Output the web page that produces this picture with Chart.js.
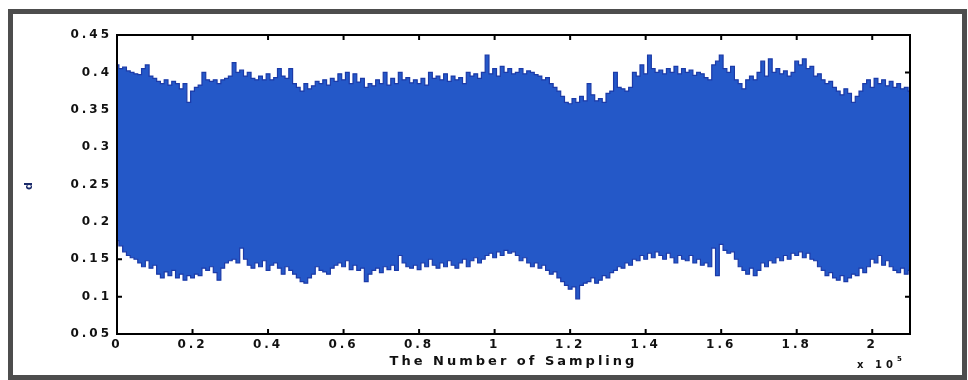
<!DOCTYPE html>
<html><head><meta charset="utf-8">
<script src="https://cdn.jsdelivr.net/npm/chart.js@4/dist/chart.umd.min.js"></script>
<style>
html,body{margin:0;padding:0;background:#fff;}
#wrap{position:relative;width:968px;height:380px;overflow:hidden;}
#frame{position:absolute;left:8px;top:9px;width:949px;height:361px;border:5px solid #4d4d4d;}
canvas{position:absolute;left:0;top:0;}
</style></head><body>
<div id="wrap"><div id="frame"></div><canvas id="c" width="968" height="380"></canvas></div>
<script>
// Sample index spacing (x in units of 1e5 samples)
const sampleStep = 0.01;
// Upper envelope (peaks) of the signal
const upperPeaks = [
0.41,0.405,0.407,0.402,0.40,0.398,0.397,0.405,0.41,0.395,0.392,0.388,0.385,0.39,0.383,0.388,0.385,0.378,0.385,0.36,0.375,0.38,0.383,0.40,0.39,0.388,0.39,0.385,0.39,0.392,0.395,0.413,0.40,0.403,0.395,0.40,0.392,0.39,0.395,0.39,0.398,0.39,0.393,0.405,0.395,0.392,0.405,0.385,0.38,0.375,0.385,0.378,0.382,
0.388,0.385,0.39,0.383,0.392,0.388,0.398,0.39,0.40,0.385,0.398,0.387,0.392,0.38,0.385,0.382,0.39,0.385,0.40,0.383,0.392,0.385,0.40,0.39,0.393,0.386,0.39,0.385,0.392,0.383,0.40,0.392,0.395,0.39,0.398,0.388,0.395,0.39,0.393,0.385,0.40,0.395,0.398,0.392,0.40,0.423,0.398,0.405,0.395,0.408,0.40,0.405,0.398,
0.40,0.405,0.398,0.402,0.40,0.397,0.395,0.39,0.393,0.385,0.38,0.375,0.368,0.36,0.358,0.365,0.36,0.368,0.362,0.385,0.37,0.362,0.365,0.36,0.372,0.375,0.40,0.38,0.378,0.375,0.38,0.40,0.395,0.41,0.398,0.423,0.405,0.40,0.403,0.398,0.405,0.40,0.408,0.398,0.405,0.40,0.403,0.396,0.40,0.398,0.393,0.39,
0.41,0.415,0.423,0.405,0.40,0.408,0.39,0.385,0.378,0.39,0.395,0.39,0.40,0.415,0.395,0.418,0.40,0.405,0.398,0.402,0.395,0.40,0.415,0.41,0.418,0.405,0.408,0.395,0.398,0.39,0.385,0.388,0.38,0.375,0.37,0.378,0.372,0.36,0.368,0.375,0.385,0.39,0.38,0.392,0.385,0.39,0.382,0.388,0.38,0.385,0.378,0.38,0.375
];
// Lower envelope (troughs) of the signal
const lowerPeaks = [
0.175,0.168,0.16,0.155,0.152,0.15,0.145,0.14,0.148,0.138,0.142,0.13,0.125,0.133,0.128,0.135,0.125,0.13,0.122,0.128,0.125,0.13,0.128,0.138,0.135,0.14,0.132,0.122,0.138,0.145,0.148,0.15,0.145,0.165,0.15,0.142,0.138,0.145,0.14,0.148,0.135,0.142,0.145,0.138,0.13,0.14,0.135,0.13,0.125,0.12,0.118,0.125,0.13,
0.14,0.135,0.133,0.13,0.138,0.142,0.145,0.14,0.148,0.136,0.142,0.135,0.138,0.12,0.13,0.135,0.138,0.132,0.14,0.136,0.142,0.135,0.155,0.145,0.14,0.138,0.142,0.136,0.145,0.14,0.15,0.142,0.138,0.145,0.14,0.148,0.142,0.138,0.145,0.15,0.14,0.148,0.152,0.145,0.15,0.155,0.158,0.152,0.16,0.155,0.162,0.158,0.16,
0.155,0.148,0.152,0.145,0.14,0.145,0.138,0.142,0.135,0.13,0.133,0.125,0.12,0.115,0.11,0.113,0.097,0.115,0.118,0.12,0.125,0.118,0.122,0.128,0.125,0.132,0.135,0.14,0.138,0.145,0.142,0.15,0.148,0.155,0.15,0.158,0.152,0.16,0.155,0.15,0.158,0.152,0.145,0.155,0.15,0.148,0.155,0.145,0.15,0.142,0.145,0.14,
0.165,0.128,0.17,0.162,0.158,0.16,0.15,0.14,0.135,0.13,0.138,0.128,0.135,0.145,0.14,0.148,0.145,0.152,0.148,0.155,0.15,0.158,0.155,0.16,0.152,0.158,0.15,0.148,0.14,0.135,0.128,0.132,0.125,0.122,0.128,0.12,0.125,0.13,0.128,0.138,0.132,0.14,0.15,0.145,0.155,0.142,0.148,0.14,0.135,0.132,0.138,0.13,0.135
];
const xTickValues = [0,0.2,0.4,0.6,0.8,1,1.2,1.4,1.6,1.8,2];
const xTickLabels = ['0','0.2','0.4','0.6','0.8','1','1.2','1.4','1.6','1.8','2'];
const yTickValues = [0.05,0.1,0.15,0.2,0.25,0.3,0.35,0.4,0.45];
const yTickLabels = ['0.05','0.1','0.15','0.2','0.25','0.3','0.35','0.4','0.45'];
const xTitle = 'The Number of Sampling';
const yTitle = 'd';
const xExponent = '5';

const edgeColor = '#1b3aa8';
const fillColor = 'rgb(36,88,200)';
const FONT = '"DejaVu Sans", sans-serif';

const lowerData = lowerPeaks.map((v,i)=>({x:+(i*sampleStep).toFixed(2), y:v}));
const upperData = upperPeaks.map((v,i)=>({x:+(i*sampleStep).toFixed(2), y:v}));

const axesPlugin = {
  id:'matlabAxes',
  beforeDraw(chart){ chart.ctx.letterSpacing = '3px'; },
  beforeDatasetsDraw(chart){
    const {ctx, chartArea:a, scales:{x,y}} = chart;
    ctx.save();
    ctx.letterSpacing = '0px';
    ctx.strokeStyle = '#000'; ctx.lineWidth = 2;
    ctx.beginPath();
    xTickValues.forEach(v=>{ const p = x.getPixelForValue(v); ctx.moveTo(p,a.bottom); ctx.lineTo(p,a.bottom-5); ctx.moveTo(p,a.top); ctx.lineTo(p,a.top+5); });
    yTickValues.forEach(v=>{ const p = y.getPixelForValue(v); ctx.moveTo(a.left,p); ctx.lineTo(a.left+5,p); ctx.moveTo(a.right,p); ctx.lineTo(a.right-5,p); });
    ctx.stroke();
    ctx.restore();
  },
  afterDatasetsDraw(chart){ chart.ctx.letterSpacing = '4px'; },
  afterDraw(chart){
    const {ctx, chartArea:a} = chart;
    ctx.save();
    ctx.strokeStyle = '#000'; ctx.lineWidth = 2;
    ctx.strokeRect(a.left, a.top, a.right-a.left, a.bottom-a.top);
    ctx.fillStyle = '#111';
    ctx.letterSpacing = '4px';
    ctx.textBaseline = 'alphabetic'; ctx.textAlign = 'left';
    ctx.font = 'bold 10px ' + FONT;
    ctx.fillText('x 10', a.right - 53, a.bottom + 34);
    ctx.font = 'bold 7px ' + FONT;
    ctx.letterSpacing = '0px';
    ctx.fillText(xExponent, a.right - 13, a.bottom + 27);
    ctx.restore();
    ctx.letterSpacing = '0px';
  }
};

new Chart(document.getElementById('c').getContext('2d'), {
  type:'line',
  data:{datasets:[
    {label:'lower', data:lowerData, borderColor:edgeColor, borderWidth:1.2, pointRadius:0, stepped:'middle', fill:false},
    {label:'upper', data:upperData, borderColor:edgeColor, borderWidth:1.2, pointRadius:0, stepped:'middle', fill:'-1', backgroundColor:fillColor}
  ]},
  options:{
    responsive:false, animation:false, devicePixelRatio:1,
    layout:{padding:{left:0,right:58,top:35,bottom:0}},
    plugins:{legend:{display:false}, tooltip:{enabled:false}},
    scales:{
      x:{type:'linear', min:0, max:2.1,
        afterBuildTicks:s=>{ s.ticks = xTickValues.map(v=>({value:v})); },
        afterFit:s=>{ s.height = 46; },
        ticks:{autoSkip:false, maxRotation:0, padding:4, color:'#111', font:{family:FONT, size:12, weight:'bold'}, callback:(v,i)=>xTickLabels[i]},
        grid:{display:false, drawTicks:false}, border:{display:false},
        title:{display:true, text:xTitle, color:'#111', font:{family:FONT, size:13, weight:'bold'}, padding:{top:0,bottom:11}}
      },
      y:{type:'linear', min:0.05, max:0.45,
        afterBuildTicks:s=>{ s.ticks = yTickValues.map(v=>({value:v})); },
        afterFit:s=>{ s.width = 117; },
        ticks:{autoSkip:false, padding:5, color:'#111', font:{family:FONT, size:12, weight:'bold'}, callback:(v,i)=>yTickLabels[i]},
        grid:{display:false, drawTicks:false}, border:{display:false},
        title:{display:true, text:yTitle, color:'#1a2a6a', font:{family:FONT, size:11, weight:'bold'}, padding:{top:23,bottom:0}}
      }
    }
  },
  plugins:[axesPlugin]
});
</script>
</body></html>
